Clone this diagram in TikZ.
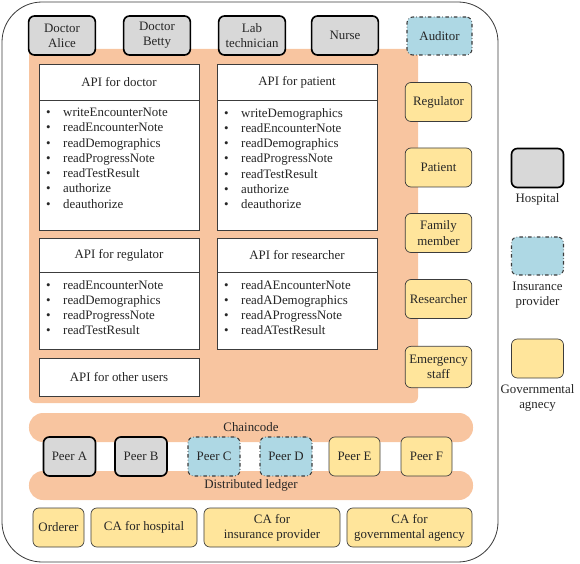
\documentclass[tikz,border=0pt]{standalone}
\usepackage{xcolor}
\usepackage{fontspec}
\setmainfont{Liberation Serif}
\usetikzlibrary{shapes,arrows,positioning,calc}

\definecolor{apiorange}{RGB}{248,197,160}
\definecolor{govyellow}{RGB}{255,229,155}
\definecolor{insblue}{RGB}{174,216,228}
\definecolor{hospgray}{RGB}{216,216,216}
\definecolor{inkgray}{RGB}{60,60,60}

\newcommand{\apiitem}[1]{\makebox[0.51cm][l]{\textbullet}#1}

\begin{document}
\begin{tikzpicture}[x=0.03cm, y=-0.03cm,
        every node/.style={font=\fontsize{11}{13}\selectfont, text=black!85},
        hosp/.style={rectangle, rounded corners=5pt, draw=black, line width=1.4pt, fill=hospgray, align=center, minimum width=2cm, minimum height=1.17cm, inner sep=1pt},
        insur/.style={rectangle, rounded corners=5pt, draw=inkgray, dash dot, line width=0.9pt, fill=insblue, align=center, minimum width=1.95cm, minimum height=1.14cm, inner sep=1pt},
        gov/.style={rectangle, rounded corners=5pt, draw=inkgray, line width=0.6pt, fill=govyellow, align=center, minimum width=2cm, minimum height=1.17cm, inner sep=1pt},
        apititle/.style={rectangle, draw=inkgray, line width=0.6pt, fill=white, minimum width=4.8cm},
        apilist/.style={rectangle, draw=inkgray, line width=0.6pt, fill=white, minimum width=4.8cm},
        apiitems/.style={anchor=north west, align=left, inner sep=0pt},
        legend/.style={align=center, inner sep=1pt}]
        \useasboundingbox (0,0) rectangle (580,564);

        % Network frame
        \draw[inkgray, line width=0.7pt, rounded corners=1.2cm] (2,2) rectangle (498,562);

        % API layer
        \fill[apiorange, rounded corners=5pt] (29,49) rectangle (418,403);
        \node (doctitle) [apititle, minimum height=1.08cm] at (119,82) {API for doctor};
        \node (doclist) [apilist, minimum height=3.9cm] at (119,165) {};
        \node (docitems) [apiitems] at (46,108) {\apiitem{writeEncounterNote}\\ \apiitem{readEncounterNote}\\ \apiitem{readDemographics}\\ \apiitem{readProgressNote}\\ \apiitem{readTestResult}\\ \apiitem{authorize}\\ \apiitem{deauthorize}};
        \node (pattitle) [apititle, minimum height=1.08cm] at (297,82) {API for patient};
        \node (patlist) [apilist, minimum height=3.9cm] at (297,165) {};
        \node (patitems) [apiitems] at (224,108) {\apiitem{writeDemographics}\\ \apiitem{readEncounterNote}\\ \apiitem{readDemographics}\\ \apiitem{readProgressNote}\\ \apiitem{readTestResult}\\ \apiitem{authorize}\\ \apiitem{deauthorize}};
        \node (regtitle) [apititle, minimum height=1.02cm] at (119,255) {API for regulator};
        \node (reglist) [apilist, minimum height=2.31cm] at (119,310.5) {};
        \node (regitems) [apiitems] at (46,280) {\apiitem{readEncounterNote}\\ \apiitem{readDemographics}\\ \apiitem{readProgressNote}\\ \apiitem{readTestResult}};
        \node (restitle) [apititle, minimum height=1.02cm] at (297,255) {API for researcher};
        \node (reslist) [apilist, minimum height=2.31cm] at (297,310.5) {};
        \node (resitems) [apiitems] at (224,280) {\apiitem{readAEncounterNote}\\ \apiitem{readADemographics}\\ \apiitem{readAProgressNote}\\ \apiitem{readATestResult}};
        \node (other) [apititle, minimum height=1.14cm] at (119,377) {API for other users};

        % Users
        \node (alice) [hosp] at (62,35.5) {Doctor\\Alice};
        \node (betty) [hosp] at (157,35.5) {Doctor\\Betty};
        \node (labtech) [hosp] at (252,35.5) {Lab\\technician};
        \node (nurse) [hosp] at (345,35.5) {Nurse};
        \node (auditor) [insur] at (439.5,36) {Auditor};
        \node (regulator) [gov] at (438.5,102) {Regulator};
        \node (patient) [gov] at (438.5,167.5) {Patient};
        \node (family) [gov] at (438.5,233) {Family\\member};
        \node (researcher) [gov] at (438.5,299) {Researcher};
        \node (emergency) [gov, minimum height=1.24cm] at (438.5,367) {Emergency\\staff};

        % Chaincode, peers and ledger
        \node (chaincode) [rectangle, fill=apiorange, rounded corners=0.42cm, minimum width=13.32cm, minimum height=0.87cm] at (251,427.5) {Chaincode};
        \node (ledger) [rectangle, fill=apiorange, rounded corners=0.42cm, minimum width=13.32cm, minimum height=0.87cm] at (251,485.5) {Distributed ledger};
        \node (peerA) [hosp, minimum width=1.56cm] at (69.5,456.5) {Peer A};
        \node (peerB) [hosp, minimum width=1.56cm] at (141,456.5) {Peer B};
        \node (peerC) [insur, minimum width=1.56cm, minimum height=1.17cm] at (214,456.5) {Peer C};
        \node (peerD) [insur, minimum width=1.56cm, minimum height=1.17cm] at (286,456.5) {Peer D};
        \node (peerE) [gov, minimum width=1.53cm] at (354.5,456.5) {Peer E};
        \node (peerF) [gov, minimum width=1.53cm] at (426.5,456.5) {Peer F};

        % Ordering and CAs
        \node (orderer) [gov, minimum width=1.53cm] at (58.5,527.5) {Orderer};
        \node (cahosp) [gov, minimum width=3.18cm] at (144,527.5) {CA for hospital};
        \node (cains) [gov, minimum width=4.08cm] at (272,527.5) {CA for\\insurance provider};
        \node (cagov) [gov, minimum width=3.75cm] at (409.5,527.5) {CA for\\governmental agency};

        % Legend
        \node (leghosp) [hosp, minimum width=1.56cm] at (537.5,168) {};
        \node [legend, below=3pt of leghosp] {Hospital};
        \node (legins) [insur, minimum width=1.56cm] at (537.5,256) {};
        \node [legend, below=4pt of legins] {Insurance\\provider};
        \node (leggov) [gov, minimum width=1.56cm] at (537.5,358.5) {};
        \node [legend, below=4pt of leggov] {Governmental\\agnecy};
    \end{tikzpicture}
\end{document}
